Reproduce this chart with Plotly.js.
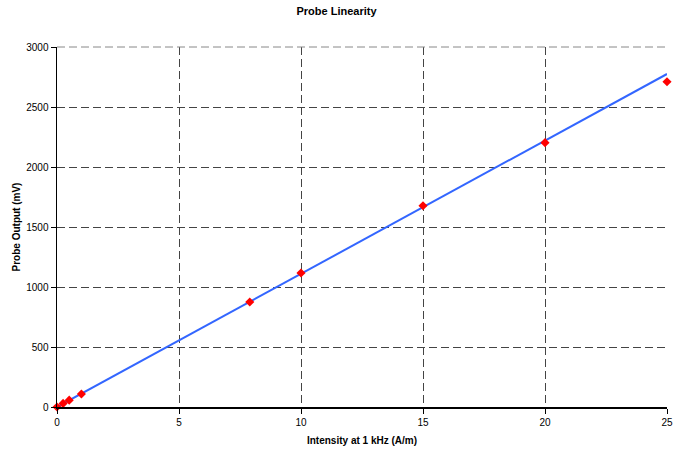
<!DOCTYPE html>
<html><head><meta charset="utf-8">
<script src="https://cdn.plot.ly/plotly-3.0.1.min.js"></script>
<style>html,body{margin:0;padding:0;background:#fff}</style>
</head><body>
<div id="chart" style="width:673px;height:451px"></div>
<script>
const intensity = [0, 0.25, 0.5, 1, 7.9, 10, 15, 20, 25];
const output = [0, 30, 57, 108, 875, 1117, 1677, 2203, 2710];
const trendX = [0, 25];
const trendY = [0, 2775];

const traces = [
  {x: trendX, y: trendY, mode: 'lines', line: {color: '#3366FF', width: 2}, hoverinfo: 'skip', cliponaxis: false},
  {x: intensity, y: output, mode: 'markers', marker: {symbol: 'diamond', color: '#FF0000', size: 7}, cliponaxis: false}
];
const font = {family: 'Liberation Sans, Arial, sans-serif', color: '#000'};
const layout = {
  width: 673, height: 451,
  margin: {l: 57, r: 6, t: 47, b: 44},
  showlegend: false,
  paper_bgcolor: '#fff', plot_bgcolor: '#fff',
  font: font,
  title: {text: '<b>Probe Linearity</b>', font: {family: font.family, size: 11, color: '#000'}, x: 0.5, xanchor: 'center', y: 0.975, yanchor: 'middle'},
  shapes: [
    {type: 'line', xref: 'paper', yref: 'paper', x0: 0, x1: 1, y0: 1, y1: 1, line: {color: '#888', width: 1, dash: '8px,4px'}}
  ],
  xaxis: {
    range: [0, 25], tickvals: [0, 5, 10, 15, 20, 25], ticks: 'outside', ticklen: 5, tickcolor: '#000',
    showline: true, linecolor: '#000', linewidth: 1.5,
    showgrid: true, gridcolor: '#444', gridwidth: 1, griddash: '8px,4px',
    zeroline: false, tickfont: {size: 10, family: font.family, color: '#000'},
    title: {text: '<b>Intensity at 1 kHz (A/m)</b>', font: {size: 10, family: font.family, color: '#000'}, standoff: 10}
  },
  yaxis: {
    range: [0, 3000], tickvals: [0, 500, 1000, 1500, 2000, 2500, 3000], ticks: 'outside', ticklen: 5, tickcolor: '#000',
    showline: true, linecolor: '#000', linewidth: 1.5,
    showgrid: true, gridcolor: '#444', gridwidth: 1, griddash: '8px,4px',
    zeroline: false, tickfont: {size: 10, family: font.family, color: '#000'},
    title: {text: '<b>Probe Output (mV)</b>', font: {size: 10, family: font.family, color: '#000'}, standoff: 4}
  }
};
Plotly.newPlot('chart', traces, layout, {displayModeBar: false, staticPlot: true});
</script>
</body></html>
